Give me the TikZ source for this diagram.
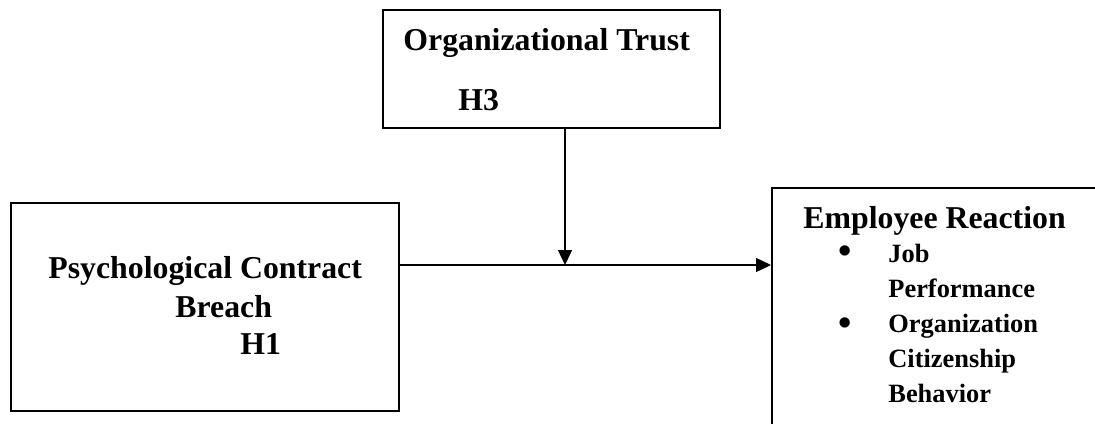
\documentclass[tikz,border=0pt]{standalone}
\usepackage{fontspec}
\setmainfont{Liberation Serif}
\usetikzlibrary{arrows.meta}
\tikzset{
  box/.style={draw, line width=1pt, rectangle, inner sep=0pt, anchor=north west},
  big/.style={anchor=base west, inner sep=0pt, font=\fontsize{15.9}{18}\selectfont\bfseries},
  small/.style={anchor=base west, inner sep=0pt, font=\fontsize{13.2}{16}\selectfont\bfseries},
  bul/.style={anchor=center, inner sep=0pt, font=\fontsize{19}{20}\selectfont\bfseries},
  link/.style={line width=0.7pt, -{Triangle[length=7.5pt,width=7pt]}}
}
\begin{document}
\begin{tikzpicture}[x=0.5pt,y=-0.5pt]
\clip (0,0) rectangle (1095,423);
\fill[white] (0,0) rectangle (1095,423);
% boxes
\node[box, minimum width=168.5pt, minimum height=59pt] (trust) at (382,9) {};
\node[box, minimum width=194pt, minimum height=104pt] (pcb) at (10,202) {};
\node[box, minimum width=200pt, minimum height=150pt] (er) at (771,187) {};
% texts
\node[big] (t1) at (403,50) {Organizational Trust};
\node[big] (t2) at (458,110) {H3};
\node[big] (p1) at (48,278) {Psychological Contract};
\node[big] (p2) at (175,317) {Breach};
\node[big] (p3) at (240,354) {H1};
\node[big] (e0) at (803,228) {Employee Reaction};
\node[bul] (b1) at (845,255) {\textbullet};
\node[small] (e1) at (888,262) {Job};
\node[small] (e2) at (888,297) {Performance};
\node[bul] (b2) at (845,327) {\textbullet};
\node[small] (e3) at (888,332) {Organization};
\node[small] (e4) at (888,367) {Citizenship};
\node[small] (e5) at (888,402) {Behavior};
% connectors
\coordinate (j) at (565,265);
\draw[link] (pcb.east |- j) -- (er.west |- j);
\draw[link] (trust.south -| j) -- (j);
\end{tikzpicture}
\end{document}
